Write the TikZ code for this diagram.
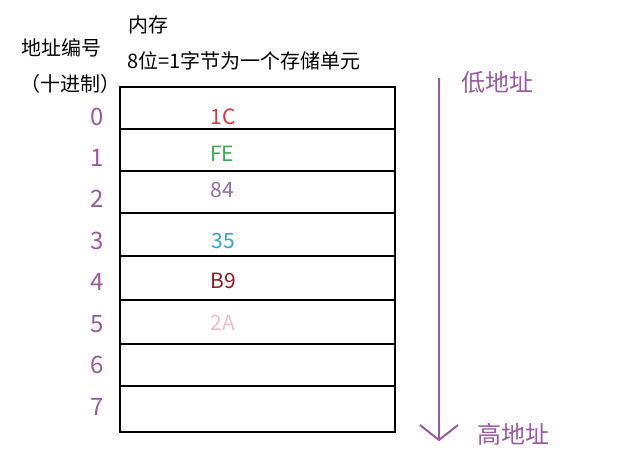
\documentclass[tikz,border=0pt]{standalone}
\usepackage{fontspec}
\setmainfont{Noto Sans CJK SC}
\usetikzlibrary{arrows.meta}
\definecolor{addr}{HTML}{9A5AA3}
\definecolor{vred}{HTML}{D23C3C}
\definecolor{vgreen}{HTML}{3DAA58}
\definecolor{vpurple}{HTML}{9468A6}
\definecolor{vblue}{HTML}{2BA3D3}
\definecolor{vdark}{HTML}{8C1A2C}
\definecolor{vpink}{HTML}{F2BBCB}
\tikzset{
  cell/.style={draw=black, line width=2pt, minimum width=275pt, inner sep=0pt},
  num/.style={text=addr, font=\fontsize{24}{27}\selectfont, inner sep=0pt},
  val/.style={font=\fontsize{21}{24}\selectfont, inner sep=0pt},
  lab/.style={font=\fontsize{20}{24}\selectfont, inner sep=0pt, anchor=west},
  dir/.style={text=addr, font=\fontsize{24}{28}\selectfont, inner sep=0pt, anchor=west},
}
\begin{document}
\begin{tikzpicture}[x=1pt,y=-1pt]
\useasboundingbox (0,0) rectangle (624,471);
% cells
\foreach \i/\t/\b in {0/87/129,1/129/171,2/171/213,3/213/256,4/256/300,5/300/344,6/344/386,7/386/432}{
  \node[cell, minimum height={(\b-\t)*1pt}] (c\i) at (257.5,{(\t+\b)/2}) {};
}
% address numbers
\node[num] (n0) at (97,117) {0};
\node[num] (n1) at (97,158) {1};
\node[num] (n2) at (97,199) {2};
\node[num] (n3) at (97,241) {3};
\node[num] (n4) at (97,282) {4};
\node[num] (n5) at (97,324) {5};
\node[num] (n6) at (97,365) {6};
\node[num] (n7) at (97,407) {7};
% values
\node[val, text=vred] (v0) at (223,117) {1C};
\node[val, text=vgreen] (v1) at (222,154) {FE};
\node[val, text=vpurple] (v2) at (222,190) {84};
\node[val, text=vblue] (v3) at (223,241) {35};
\node[val, text=vdark] (v4) at (223,281) {B9};
\node[val, text=vpink] (v5) at (223,323) {2A};
% labels
\node[lab] (mem) at (128,25) {内存};
\node[lab] (unit) at (127,61) {8位=1字节为一个存储单元};
\node[lab] (addrt) at (21,48) {地址编号};
\node[lab] (dec) at (20,84) {（十进制）};
% arrow
\coordinate (top) at (439,78);
\coordinate (bot) at (439,440);
\draw[addr, line width=2pt] (top) -- (bot);
\coordinate (la) at (420,425);
\coordinate (ra) at (458,425);
\draw[addr, line width=2pt, line join=miter] (la) -- (bot) -- (ra);
\node[dir] (low) at (461,82) {低地址};
\node[dir] (high) at (477,434) {高地址};
\end{tikzpicture}
\end{document}
